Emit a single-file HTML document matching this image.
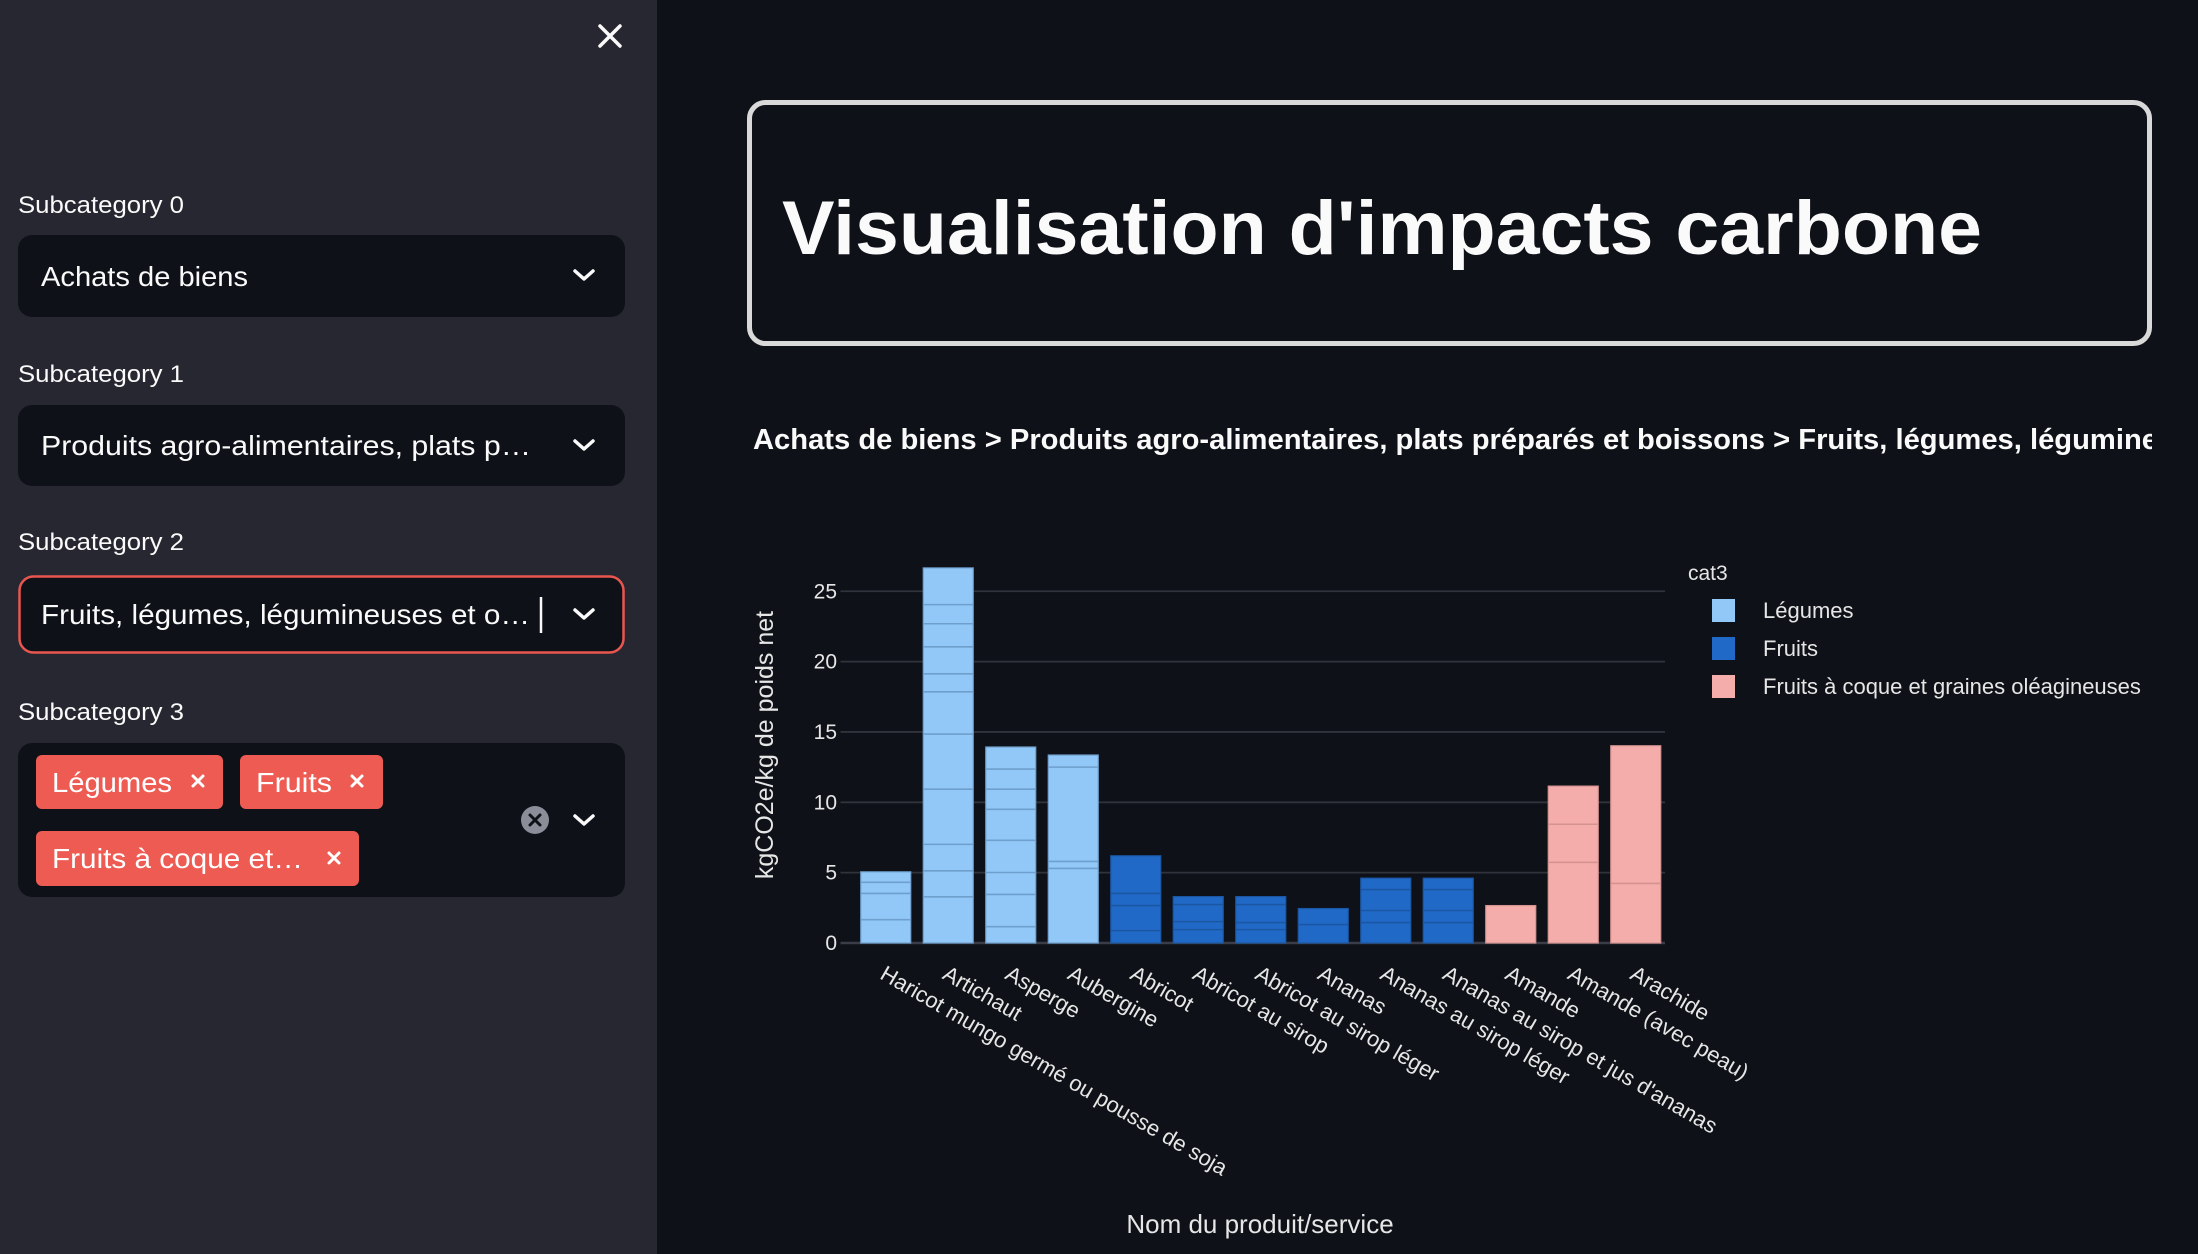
<!DOCTYPE html>
<html><head><meta charset="utf-8"><style>
html,body{margin:0;padding:0;background:#0e1117;}
svg{display:block;font-family:"Liberation Sans",sans-serif;}
</style></head><body>
<svg id="root" width="2198" height="1254" viewBox="0 0 2198 1254" xmlns="http://www.w3.org/2000/svg">
<defs><clipPath id="mainclip"><rect x="740" y="380" width="1412" height="120"/></clipPath></defs>
<rect x="0" y="0" width="2198" height="1254" fill="#0e1117"/>
<g>
<rect x="0" y="0" width="657" height="1254" fill="#262730"/>
<g stroke="#fafafa" stroke-width="3.5" stroke-linecap="round">
<line x1="600" y1="26" x2="620" y2="46"/><line x1="620" y1="26" x2="600" y2="46"/></g>
<text x="18" y="213" font-size="24" fill="#fafafa" textLength="166" lengthAdjust="spacingAndGlyphs">Subcategory 0</text>
<g>
<rect x="18" y="235" width="607" height="82" rx="14" fill="#0e1117"/>
<text x="41" y="286" font-size="28" fill="#fafafa" textLength="207" lengthAdjust="spacingAndGlyphs">Achats de biens</text>
<polyline points="575,271 584,279 593,271" fill="none" stroke="#fafafa" stroke-width="3.5" stroke-linecap="round" stroke-linejoin="round"/></g>
<text x="18" y="382" font-size="24" fill="#fafafa" textLength="166" lengthAdjust="spacingAndGlyphs">Subcategory 1</text>
<g>
<rect x="18" y="405" width="607" height="81" rx="14" fill="#0e1117"/>
<text x="41" y="455" font-size="28" fill="#fafafa" textLength="490" lengthAdjust="spacingAndGlyphs">Produits agro-alimentaires, plats p…</text>
<polyline points="575,441 584,449 593,441" fill="none" stroke="#fafafa" stroke-width="3.5" stroke-linecap="round" stroke-linejoin="round"/></g>
<text x="18" y="550" font-size="24" fill="#fafafa" textLength="166" lengthAdjust="spacingAndGlyphs">Subcategory 2</text>
<g>
<rect x="19.5" y="576.5" width="604" height="76" rx="14" fill="#0e1117" stroke="#e9564f" stroke-width="2.5"/>
<text x="41" y="624" font-size="28" fill="#fafafa" textLength="489" lengthAdjust="spacingAndGlyphs">Fruits, légumes, légumineuses et o…</text>
<line x1="541" y1="597" x2="541" y2="633" stroke="#fafafa" stroke-width="2.5"/>
<polyline points="575,610 584,618 593,610" fill="none" stroke="#fafafa" stroke-width="3.5" stroke-linecap="round" stroke-linejoin="round"/></g>
<text x="18" y="720" font-size="24" fill="#fafafa" textLength="166" lengthAdjust="spacingAndGlyphs">Subcategory 3</text>
<g>
<rect x="18" y="743" width="607" height="154" rx="14" fill="#0e1117"/>
<circle cx="535" cy="820" r="14" fill="#8b8e99"/>
<g stroke="#0e1117" stroke-width="3" stroke-linecap="round"><line x1="530" y1="815" x2="540" y2="825"/><line x1="540" y1="815" x2="530" y2="825"/></g>
<polyline points="575,816 584,824 593,816" fill="none" stroke="#fafafa" stroke-width="3.5" stroke-linecap="round" stroke-linejoin="round"/>
</g>
<g>
<rect x="36" y="755" width="187" height="54" rx="6" fill="#ee5b52"/>
<text x="52" y="792" font-size="28" fill="#fff" textLength="120" lengthAdjust="spacingAndGlyphs">Légumes</text>
<g stroke="#fff" stroke-width="3" stroke-linecap="round"><line x1="193" y1="776" x2="203" y2="786"/><line x1="203" y1="776" x2="193" y2="786"/></g></g>
<g>
<rect x="240" y="755" width="143" height="54" rx="6" fill="#ee5b52"/>
<text x="256" y="792" font-size="28" fill="#fff" textLength="76" lengthAdjust="spacingAndGlyphs">Fruits</text>
<g stroke="#fff" stroke-width="3" stroke-linecap="round"><line x1="352" y1="776" x2="362" y2="786"/><line x1="362" y1="776" x2="352" y2="786"/></g></g>
<g>
<rect x="36" y="831" width="323" height="55" rx="6" fill="#ee5b52"/>
<text x="52" y="868" font-size="28" fill="#fff" textLength="251" lengthAdjust="spacingAndGlyphs">Fruits à coque et…</text>
<g stroke="#fff" stroke-width="3" stroke-linecap="round"><line x1="329" y1="853" x2="339" y2="863"/><line x1="339" y1="853" x2="329" y2="863"/></g></g>
</g>
<g>
<rect x="749.5" y="102.5" width="1400" height="241" rx="16" fill="none" stroke="#d9d9d9" stroke-width="5"/>
<text x="782" y="254" font-size="76" font-weight="bold" fill="#fafafa" textLength="1200" lengthAdjust="spacingAndGlyphs">Visualisation d'impacts carbone</text>
</g>
<g clip-path="url(#mainclip)">
<text x="753" y="449" font-size="29" font-weight="bold" fill="#fafafa" textLength="1405" lengthAdjust="spacingAndGlyphs">Achats de biens &gt; Produits agro-alimentaires, plats préparés et boissons &gt; Fruits, légumes, légumine</text>
</g>
<g id="chart"></g>
</svg>
<script>
const categories = ["Haricot mungo germé ou pousse de soja","Artichaut","Asperge","Aubergine","Abricot","Abricot au sirop","Abricot au sirop léger","Ananas","Ananas au sirop léger","Ananas au sirop et jus d'ananas","Amande","Amande (avec peau)","Arachide"];
const groups = [0,0,0,0,1,1,1,1,1,1,2,2,2];
const segments = [
 [1.66,1.86,0.79,0.75],
 [3.28,1.85,1.88,3.92,3.92,3.0,1.28,1.92,1.64,1.36,2.61],
 [1.16,2.29,1.56,2.29,2.2,1.43,1.43,1.57],
 [5.3,0.5,6.7,0.86],
 [0.88,1.78,0.86,2.68],
 [0.95,0.57,1.21,0.57],
 [0.95,0.5,1.28,0.57],
 [1.31,1.14],
 [1.45,0.86,1.49,0.81],
 [1.45,0.86,1.49,0.81],
 [2.66],
 [5.73,2.71,2.71],
 [4.23,9.79]
];
const groupNames = ["Légumes","Fruits","Fruits à coque et graines oléagineuses"];
const yTicks = [0,5,10,15,20,25];

const NS="http://www.w3.org/2000/svg";
const chart=document.getElementById('chart');
const colors=["#91c8f8","#2169c6","#f4adaa"];
const lineColors=["#6f9fcc","#1b56a3","#d49391"];
const X0=854.5, X1=1667, Y0=943, PPU=14.07;
const band=(X1-X0)/categories.length;
const xc=i=>X0+band*(i+0.5);
const y=v=>Y0-v*PPU;
function mk(tag,attrs,parent){const e=document.createElementNS(NS,tag);for(const k in attrs)e.setAttribute(k,attrs[k]);(parent||chart).appendChild(e);return e;}

yTicks.forEach(t=>{
 const g=mk('line',{x1:X0-14,x2:1665,y1:y(t),y2:y(t),stroke:t===0?'#3a3c47':'#30323c','stroke-width':t===0?2.5:1.8});
 
 
 const tx=mk('text',{x:837,y:y(t)+7,'text-anchor':'end','font-size':21,fill:'#e6e6e6'});
 tx.textContent=t;
 
 
});

const bw=band*0.8;
segments.forEach((segs,i)=>{
 let acc=0;const gi=groups[i];
 const total=segs.reduce((a,b)=>a+b,0);
 const r=mk('rect',{x:xc(i)-bw/2,y:y(total),width:bw,height:y(0)-y(total),fill:colors[gi],stroke:lineColors[gi],'stroke-width':1.2});
 
 
 segs.forEach((s,k)=>{acc+=s;if(k<segs.length-1){
  const l=mk('line',{x1:xc(i)-bw/2,x2:xc(i)+bw/2,y1:y(acc),y2:y(acc),stroke:lineColors[gi],'stroke-width':1.6});
  
  
 }});
 const t=mk('text',{x:0,y:0,'font-size':22,fill:'#e6e6e6',transform:`translate(${xc(i)-7},${978}) rotate(30)`});
 t.textContent=categories[i];
 
 
});

const yt=mk('text',{x:0,y:0,'font-size':25,fill:'#e6e6e6','text-anchor':'middle',transform:'translate(773,745) rotate(-90)'});
yt.textContent='kgCO2e/kg de poids net';


const xt=mk('text',{x:1260,y:1233,'font-size':26,fill:'#e6e6e6','text-anchor':'middle'});
xt.textContent='Nom du produit/service';



const lt=mk('text',{x:1688,y:580,'font-size':21,fill:'#e6e6e6'});
lt.textContent='cat3';


groupNames.forEach((n,k)=>{
 const cy=610+k*38;
 const sw=mk('rect',{x:1712,y:cy-11,width:23,height:23,fill:colors[k]});
 
 
 const tx=mk('text',{x:1763,y:cy+8,'font-size':22,fill:'#e6e6e6'});
 tx.textContent=n;
 
 
});
</script>
</body></html>
